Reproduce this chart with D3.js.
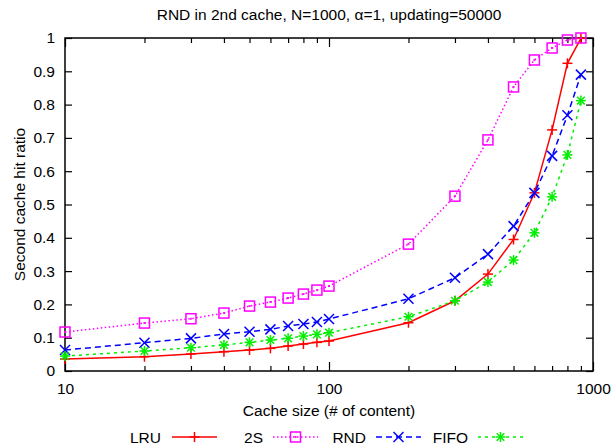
<!DOCTYPE html>
<html>
<head>
<meta charset="utf-8">
<script src="https://cdn.jsdelivr.net/npm/d3@7"></script>
<style>
  html, body { margin: 0; padding: 0; background: #fff; }
  svg { display: block; font-family: "Liberation Sans", Arial, Helvetica, sans-serif; }
</style>
</head>
<body>
<svg id="chart" width="612" height="448"></svg>
<script>
// Cache sizes (number of content items)
const cacheSizes = [10, 20, 30, 40, 50, 60, 70, 80, 90, 100, 200, 300, 400, 500, 600, 700, 800, 900];

// Second-cache hit ratio per replacement policy
const lruValues  = [0.036, 0.043, 0.051, 0.058, 0.063, 0.068, 0.075, 0.081, 0.086, 0.090, 0.145, 0.211, 0.291, 0.395, 0.535, 0.724, 0.924, 0.999];
const twoSValues = [0.117, 0.144, 0.157, 0.174, 0.195, 0.207, 0.219, 0.231, 0.243, 0.255, 0.381, 0.525, 0.694, 0.853, 0.934, 0.970, 0.994, 1.000];
const rndValues  = [0.063, 0.085, 0.098, 0.111, 0.118, 0.125, 0.135, 0.141, 0.147, 0.156, 0.217, 0.280, 0.351, 0.435, 0.535, 0.646, 0.768, 0.890];
const fifoValues = [0.045, 0.060, 0.070, 0.078, 0.086, 0.093, 0.098, 0.105, 0.110, 0.115, 0.163, 0.211, 0.267, 0.333, 0.415, 0.523, 0.649, 0.812];

const seriesNames = ["LRU", "2S", "RND", "FIFO"];
const yTickValues = [0, 0.1, 0.2, 0.3, 0.4, 0.5, 0.6, 0.7, 0.8, 0.9, 1];
const xMajorTicks = [10, 100, 1000];
const xMinorTicks = [20, 30, 40, 50, 60, 70, 80, 90, 200, 300, 400, 500, 600, 700, 800, 900];

const series = [
  { name: seriesNames[0], values: lruValues,  color: "#ff0000", dash: null,  marker: "plus" },
  { name: seriesNames[1], values: twoSValues, color: "#ff00ff", dash: "1.5,2.5", marker: "square" },
  { name: seriesNames[2], values: rndValues,  color: "#0000ff", dash: "6,4", marker: "cross" },
  { name: seriesNames[3], values: fifoValues, color: "#00ee00", dash: "3,4", marker: "star" }
];

const fontSize = 15.5;
const svg = d3.select("#chart");
const plotLeft = 65, plotRight = 593, plotTop = 38, plotBottom = 371;

const x = d3.scaleLog().domain([10, 1000]).range([plotLeft, plotRight]);
const y = d3.scaleLinear().domain([0, 1]).range([plotBottom, plotTop]);

// Title
svg.append("text")
  .attr("x", (plotLeft + plotRight) / 2).attr("y", 20)
  .attr("text-anchor", "middle")
  .attr("font-size", fontSize)
  .text("RND in 2nd cache, N=1000, α=1, updating=50000");

// Axis labels
svg.append("text")
  .attr("x", (plotLeft + plotRight) / 2).attr("y", 416)
  .attr("text-anchor", "middle")
  .attr("font-size", fontSize)
  .text("Cache size (# of content)");

svg.append("text")
  .attr("transform", `translate(25,${(plotTop + plotBottom) / 2}) rotate(-90)`)
  .attr("text-anchor", "middle")
  .attr("font-size", fontSize)
  .text("Second cache hit ratio");

const axes = svg.append("g");

// Y ticks (inward on both sides)
axes.append("g").attr("transform", `translate(${plotLeft},0)`)
  .call(d3.axisLeft(y).tickValues(yTickValues).tickSize(-7).tickPadding(10).tickFormat(d3.format("~g")))
  .call(g => g.select(".domain").remove());
axes.append("g").attr("transform", `translate(${plotRight},0)`)
  .call(d3.axisRight(y).tickValues(yTickValues).tickSize(-7).tickFormat(""))
  .call(g => g.select(".domain").remove());

// X ticks (major and minor, inward on top and bottom)
axes.append("g").attr("transform", `translate(0,${plotBottom})`)
  .call(d3.axisBottom(x).tickValues(xMajorTicks).tickSize(-9).tickPadding(12).tickFormat(d3.format("d")))
  .call(g => g.select(".domain").remove());
axes.append("g").attr("transform", `translate(0,${plotBottom})`)
  .call(d3.axisBottom(x).tickValues(xMinorTicks).tickSize(-5).tickFormat(""))
  .call(g => g.select(".domain").remove());
axes.append("g").attr("transform", `translate(0,${plotTop})`)
  .call(d3.axisTop(x).tickValues(xMajorTicks).tickSize(-9).tickFormat(""))
  .call(g => g.select(".domain").remove());
axes.append("g").attr("transform", `translate(0,${plotTop})`)
  .call(d3.axisTop(x).tickValues(xMinorTicks).tickSize(-5).tickFormat(""))
  .call(g => g.select(".domain").remove());

axes.selectAll(".tick line").attr("stroke", "#000").attr("stroke-width", 1.2);
axes.selectAll(".tick text").attr("font-size", fontSize).attr("fill", "#000")
  .attr("font-family", "'Liberation Sans', Arial, sans-serif");

// Frame
svg.append("rect")
  .attr("x", plotLeft).attr("y", plotTop)
  .attr("width", plotRight - plotLeft).attr("height", plotBottom - plotTop)
  .attr("fill", "none").attr("stroke", "#000").attr("stroke-width", 1.5);

// Marker drawing
function drawMarker(g, type, cx, cy, color) {
  const s = 5;
  const m = g.append("g").attr("transform", `translate(${cx},${cy})`)
    .attr("stroke", color).attr("stroke-width", 1.5).attr("fill", "none");
  if (type === "plus" || type === "star") {
    m.append("line").attr("x1", -s).attr("x2", s).attr("y1", 0).attr("y2", 0);
    m.append("line").attr("x1", 0).attr("x2", 0).attr("y1", -s).attr("y2", s);
  }
  if (type === "cross" || type === "star") {
    const c = type === "star" ? 3.8 : 5;
    m.append("line").attr("x1", -c).attr("x2", c).attr("y1", -c).attr("y2", c);
    m.append("line").attr("x1", -c).attr("x2", c).attr("y1", c).attr("y2", -c);
  }
  if (type === "square") {
    m.append("rect").attr("x", -s).attr("y", -s).attr("width", 2 * s).attr("height", 2 * s);
    m.append("rect").attr("x", -0.6).attr("y", -0.6).attr("width", 1.2).attr("height", 1.2)
      .attr("stroke-width", 0.8);
  }
}

const line = d3.line().x(d => x(d[0])).y(d => y(d[1]));
const plot = svg.append("g");

series.forEach(s => {
  const pts = cacheSizes.map((c, i) => [c, s.values[i]]);
  plot.append("path")
    .datum(pts)
    .attr("d", line)
    .attr("fill", "none")
    .attr("stroke", s.color)
    .attr("stroke-width", 1.5)
    .attr("stroke-dasharray", s.dash);
  pts.forEach(p => drawMarker(plot, s.marker, x(p[0]), y(p[1]), s.color));
});

// Legend
const legendItems = [
  { textEnd: 161, lineStart: 172 },
  { textEnd: 263, lineStart: 273 },
  { textEnd: 366, lineStart: 376 },
  { textEnd: 468, lineStart: 478 }
];
const legend = svg.append("g");
series.forEach((s, i) => {
  const li = legendItems[i];
  const ly = 437;
  legend.append("text")
    .attr("x", li.textEnd).attr("y", ly + 5.5)
    .attr("text-anchor", "end")
    .attr("font-size", fontSize)
    .text(s.name);
  legend.append("line")
    .attr("x1", li.lineStart).attr("x2", li.lineStart + 45)
    .attr("y1", ly).attr("y2", ly)
    .attr("stroke", s.color).attr("stroke-width", 1.5)
    .attr("stroke-dasharray", s.dash);
  drawMarker(legend, s.marker, li.lineStart + 22.5, ly, s.color);
});
</script>
</body>
</html>
